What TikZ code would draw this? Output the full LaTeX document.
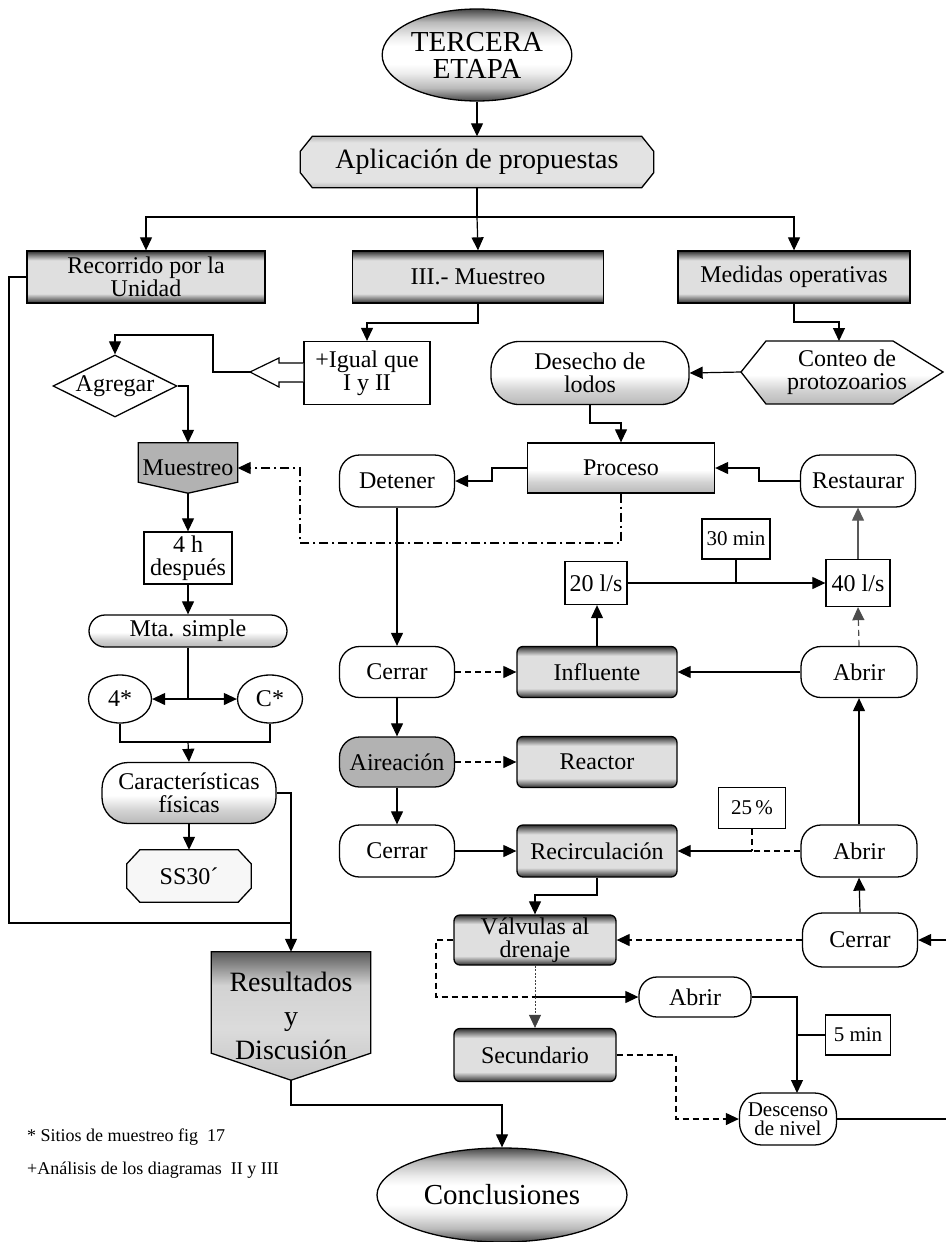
\documentclass[tikz,border=0pt]{standalone}
\usepackage{fontspec}
\setmainfont{Liberation Serif}
\usetikzlibrary{arrows.meta,shapes.geometric,backgrounds}

% shadings: dark edge bands, shaded lower half, shaded oval, result box
\pgfdeclareverticalshading{bands}{100bp}{color(0bp)=(black!82); color(25bp)=(black!82); color(29bp)=(black!50); color(34bp)=(gray!25); color(66bp)=(gray!25); color(71bp)=(black!50); color(75bp)=(black!82); color(100bp)=(black!82)}
\pgfdeclareverticalshading{lightbands}{100bp}{color(0bp)=(gray!55); color(25bp)=(gray!55); color(31bp)=(gray!22); color(69bp)=(gray!22); color(75bp)=(gray!55); color(100bp)=(gray!55)}
\pgfdeclareverticalshading{lowshade}{100bp}{color(0bp)=(gray!55); color(25bp)=(gray!55); color(36bp)=(gray!35); color(48bp)=(white); color(100bp)=(white)}
\pgfdeclareverticalshading{ovalshade}{100bp}{color(0bp)=(black!72); color(25bp)=(black!72); color(32bp)=(gray!55); color(40bp)=(gray!15); color(45bp)=(white); color(55bp)=(white); color(60bp)=(gray!15); color(68bp)=(gray!55); color(75bp)=(black!72); color(100bp)=(black!72)}
\pgfdeclareverticalshading{resshade}{100bp}{color(0bp)=(gray!45); color(25bp)=(gray!45); color(45bp)=(gray!28); color(62bp)=(gray!35); color(75bp)=(black!65); color(100bp)=(black!65)}

\newcommand\txtA{\fontsize{24}{23}\selectfont}
\newcommand\txtB{\fontsize{28}{30}\selectfont}
\newcommand\txtC{\fontsize{21}{20}\selectfont}
\newcommand\txtD{\fontsize{21}{19}\selectfont}
\newcommand\txtE{\fontsize{18}{18}\selectfont}

\tikzset{
  every node/.style={inner sep=1pt, align=center, font=\txtA},
  plainbox/.style={draw, line width=1.3pt},
  stad/.style={plainbox, rounded corners=20pt},
  band/.style={plainbox, rounded corners=6pt, shading=bands},
  bandrect/.style={plainbox, shading=bands},
  ln/.style={line width=1.2pt},
  conn/.style={line width=1.2pt, -{Triangle[length=13pt,width=12pt]}},
  dsh/.style={dash pattern=on 6pt off 4pt},
  dashdot/.style={dash pattern=on 9pt off 4pt on 2pt off 4pt},
}

\begin{document}
\begin{tikzpicture}[x=1pt,y=-1pt]
\useasboundingbox (0,0) rectangle (946,1242);

% ---------- top ----------
\node[ellipse, plainbox, shading=ovalshade, minimum width=182pt, minimum height=92pt, font=\fontsize{29}{27}\selectfont] (tercera) at (477,55) {TERCERA\\ETAPA};
\node[minimum width=353pt, minimum height=51pt, font=\txtB] (apl) at (477,162) {Aplicación de propuestas};

\node[bandrect, minimum width=238pt, minimum height=52pt] (recor) at (146,277) {Recorrido por la\\Unidad};
\node[bandrect, minimum width=251pt, minimum height=52pt] (mues3) at (478,277) {III.- Muestreo};
\node[bandrect, minimum width=232pt, minimum height=52pt] (medidas) at (794,277) {Medidas operativas};

% ---------- left column ----------
\node[plainbox, minimum width=126pt, minimum height=63pt] (igual) at (367,373) {+Igual que\\I y II};
\node[diamond, aspect=2, plainbox, inner sep=0pt, minimum width=124pt, minimum height=62pt] (agregar) at (115,386) {Agregar};
\node[minimum width=99pt, minimum height=50pt] (muestreo) at (188,468) {Muestreo};
\node[plainbox, minimum width=88pt, minimum height=52pt] (cuatroh) at (188,558) {4 h\\después};
\node[plainbox, rounded corners=16pt, shading=lowshade, minimum width=198pt, minimum height=32pt] (mta) at (188,631) {Mta. simple};
\node[ellipse, plainbox, inner sep=0pt, minimum width=63pt, minimum height=48pt] (sitio4) at (120,699) {4*};
\node[ellipse, plainbox, inner sep=0pt, minimum width=65pt, minimum height=48pt] (sitioC) at (270,699) {C*};
\node[stad, rounded corners=26pt, shading=lowshade, minimum width=174pt, minimum height=61pt] (carac) at (189,793) {Características\\físicas};
\node[minimum width=124pt, minimum height=52pt] (ss30) at (189,876) {SS30´};
\node[minimum width=159pt, minimum height=128pt, font=\fontsize{28}{34}\selectfont] (result) at (291,1016) {Resultados\\y\\Discusión};
\node[ellipse, plainbox, shading=ovalshade, minimum width=250pt, minimum height=94pt, font=\fontsize{29}{30}\selectfont] (concl) at (502,1195) {Conclusiones};

\node[anchor=west, font=\txtE] (nota1) at (26,1137) {* Sitios de muestreo fig\ \ 17};
\node[anchor=west, font=\txtE] (nota2) at (26,1170) {+Análisis de los diagramas\ \ II y III};

% ---------- right part ----------
\node[stad, rounded corners=28pt, shading=lowshade, minimum width=198pt, minimum height=63pt] (desecho) at (590,373) {Desecho de\\lodos};
\node[minimum width=128pt, minimum height=63pt] (conteo) at (847,372) {Conteo de\\protozoarios};
\coordinate (conteoL) at (741,372);
\coordinate (conteoN) at (839,341);
\node[plainbox, shading=lowshade, minimum width=187pt, minimum height=50pt] (proceso) at (621,468) {Proceso};
\node[stad, minimum width=115pt, minimum height=52pt] (detener) at (397,481) {Detener};
\node[stad, minimum width=115pt, minimum height=52pt] (restaurar) at (858,481) {Restaurar};
\node[plainbox, minimum width=68pt, minimum height=40pt, font=\txtC] (min30) at (736,539) {30 min};
\node[plainbox, minimum width=62pt, minimum height=43pt] (l20) at (596,583) {20 l/s};
\node[plainbox, minimum width=64pt, minimum height=47pt] (l40) at (858,583) {40 l/s};

\node[stad, minimum width=115pt, minimum height=51pt] (cerrar1) at (397,672) {Cerrar};
\node[band, minimum width=160pt, minimum height=51pt] (influente) at (597,672) {Influente};
\node[stad, minimum width=116pt, minimum height=51pt] (abrir1) at (859,672) {Abrir};
\node[stad, fill=gray!60, minimum width=115pt, minimum height=50pt] (aireacion) at (397,762) {Aireación};
\node[band, minimum width=160pt, minimum height=51pt] (reactor) at (597,762) {Reactor};
\node[stad, minimum width=115pt, minimum height=52pt] (cerrar2) at (397,851) {Cerrar};
\node[band, minimum width=160pt, minimum height=52pt] (recirc) at (597,851) {Recirculación};
\node[stad, minimum width=116pt, minimum height=52pt] (abrir2) at (859,851) {Abrir};
\node[plainbox, minimum width=67pt, minimum height=41pt, font=\txtC] (pct) at (752,808) {25\,\%};

\node[band, minimum width=162pt, minimum height=50pt] (valv) at (535,940) {Válvulas al\\drenaje};
\node[stad, minimum width=115pt, minimum height=54pt] (cerrar3) at (860,940) {Cerrar};
\node[stad, rounded corners=18pt, minimum width=112pt, minimum height=40pt] (abrir3) at (695,997) {Abrir};
\node[band, minimum width=162pt, minimum height=53pt] (secund) at (535,1055) {Secundario};
\node[plainbox, minimum width=65pt, minimum height=40pt, font=\txtC] (min5) at (858,1035) {5 min};
\node[stad, rounded corners=22pt, minimum width=97pt, minimum height=52pt, font=\txtD] (descenso) at (788,1119) {Descenso\\de nivel};

\coordinate (edgeR1) at (946,940);
\coordinate (edgeR2) at (946,1119);

% ---------- outlines of the special shapes ----------
\begin{pgfonlayer}{background}
  \path[draw, line width=1.3pt, shading=lightbands]
    ([xshift=12pt]apl.north west) -- ([xshift=-12pt]apl.north east) -- ([yshift=-15pt]apl.north east)
    -- ([yshift=15pt]apl.south east) -- ([xshift=-12pt]apl.south east) -- ([xshift=12pt]apl.south west)
    -- ([yshift=15pt]apl.south west) -- ([yshift=-15pt]apl.north west) -- cycle;
  \path[draw, line width=1.3pt, fill=gray!60]
    (muestreo.north west) -- (muestreo.north east) -- ([yshift=11pt]muestreo.south east)
    -- (muestreo.south) -- ([yshift=11pt]muestreo.south west) -- cycle;
  \path[draw, line width=1.3pt, fill=gray!6]
    ([xshift=13pt]ss30.north west) -- ([xshift=-13pt]ss30.north east) -- ([yshift=-14pt]ss30.north east)
    -- ([yshift=14pt]ss30.south east) -- ([xshift=-13pt]ss30.south east) -- ([xshift=13pt]ss30.south west)
    -- ([yshift=14pt]ss30.south west) -- ([yshift=-14pt]ss30.north west) -- cycle;
  \path[draw, line width=1.3pt, shading=resshade]
    (result.north west) -- (result.north east) -- ([yshift=27pt]result.south east)
    -- (result.south) -- ([yshift=27pt]result.south west) -- cycle;
  \path[draw, line width=1.3pt, shading=lowshade]
    (conteoL) -- (766,341) -- (893,341) -- (943,372) -- (893,404) -- (766,404) -- cycle;
\end{pgfonlayer}

% ---------- connectors ----------
\draw[conn] (tercera.south) -- (apl.north);
\coordinate (branch) at (477,217);
\draw[ln] (apl.south) -- (branch);
\draw[conn] (branch) -| (recor.north);
\draw[conn] (branch) -- (mues3.north);
\draw[conn] (branch) -| (medidas.north);

\coordinate (jres) at (291,923);
\draw[ln] (recor.west) -- (recor.west -| 9,0) |- (jres);

\draw[conn] (mues3.south) |- (igual.north |- 0,323) -- (igual.north);
% hollow block arrow out of the box
\draw[line width=1.2pt, fill=white] (igual.west |- 0,363) -- (279,363) -- (279,358) -- (250,372)
  -- (279,387) -- (279,382) -- (igual.west |- 0,382);
\coordinate (blocktip) at (250,372);
\draw[conn] (blocktip) -- (213,372) -- (213,335) -| (agregar.north);
\draw[conn] (agregar.east) -| (muestreo.north);
\draw[conn] (muestreo.south) -- (cuatroh.north);
\draw[conn] (cuatroh.south) -- (mta.north);
\coordinate (jsplit) at (188,699);
\draw[ln] (mta.south) -- (jsplit);
\draw[conn] (jsplit) -- (sitio4.east);
\draw[conn] (jsplit) -- (sitioC.west);
\coordinate (jjoin) at (188,742);
\draw[ln] (sitio4.south) |- (jjoin) -| (sitioC.south);
\draw[conn] (jjoin) -- (carac.north);
\draw[conn] (carac.south) -- (ss30.north);
\draw[conn] (carac.east) -| (result.north);
\draw[conn] (result.south) -- (291,1105) -| (concl.north);

\draw[conn] (medidas.south) |- (conteoN |- 0,322) -- (conteoN);
\draw[conn] (conteoL) -- (desecho.east);
\draw[conn] (desecho.south) |- (proceso.north |- 0,423) -- (proceso.north);
\draw[conn] (proceso.west) -- (492,468) |- (detener.east);
\draw[conn] (restaurar.west) -- (759,481) |- (proceso.east);
\draw[conn, dashdot] (proceso.south) |- (300,543) |- (muestreo.east);

\draw[conn] (l20.east) -- (l40.west);
\draw[ln] (min30.south) -- (min30.south |- l20.east);
\draw[conn, gray!70!black] (l40.north) -- (restaurar.south);

\draw[conn] (detener.south) -- (cerrar1.north);
\draw[conn, dsh] (cerrar1.east) -- (influente.west);
\draw[conn] (influente.north) -- (influente.north |- l20.south);
\draw[conn] (abrir1.west) -- (influente.east);
\draw[conn, dsh, gray!60!black] (abrir1.north) -- (l40.south);
\draw[conn] (cerrar1.south) -- (aireacion.north);
\draw[conn, dsh] (aireacion.east) -- (reactor.west);
\draw[conn] (aireacion.south) -- (cerrar2.north);
\draw[conn] (cerrar2.east) -- (recirc.west);
\draw[conn] (abrir2.north) -- (abrir1.south);
\coordinate (jpct) at (752,851);
\draw[ln, dsh] (abrir2.west) -- (jpct);
\draw[ln, dsh] (pct.south) -- (jpct);
\draw[conn] (jpct) -- (recirc.east);

\draw[conn] (recirc.south) |- (valv.north |- 0,895) -- (valv.north);
\draw[conn] (edgeR1) -- (cerrar3.east);
\draw[conn] (cerrar3.north) -- (abrir2.south);
\draw[conn, dsh] (cerrar3.west) -- (valv.east);
\coordinate (jvalv) at (535,997);
\draw[ln, dsh] (valv.west) -- (436,940) |- (jvalv);
\draw[conn] (jvalv) -- (abrir3.west);
\draw[conn, line width=0.7pt, gray!50!black, dash pattern=on 2pt off 1.5pt] (valv.south) -- (secund.north);
\coordinate (j5) at (797,1035);
\draw[conn] (abrir3.east) -| (797,1093);
\draw[ln] (min5.west) -- (j5);
\draw[conn, dsh] (secund.east) -- (676,1055) |- (descenso.west);
\draw[ln] (descenso.east) -- (edgeR2);
\end{tikzpicture}
\end{document}
